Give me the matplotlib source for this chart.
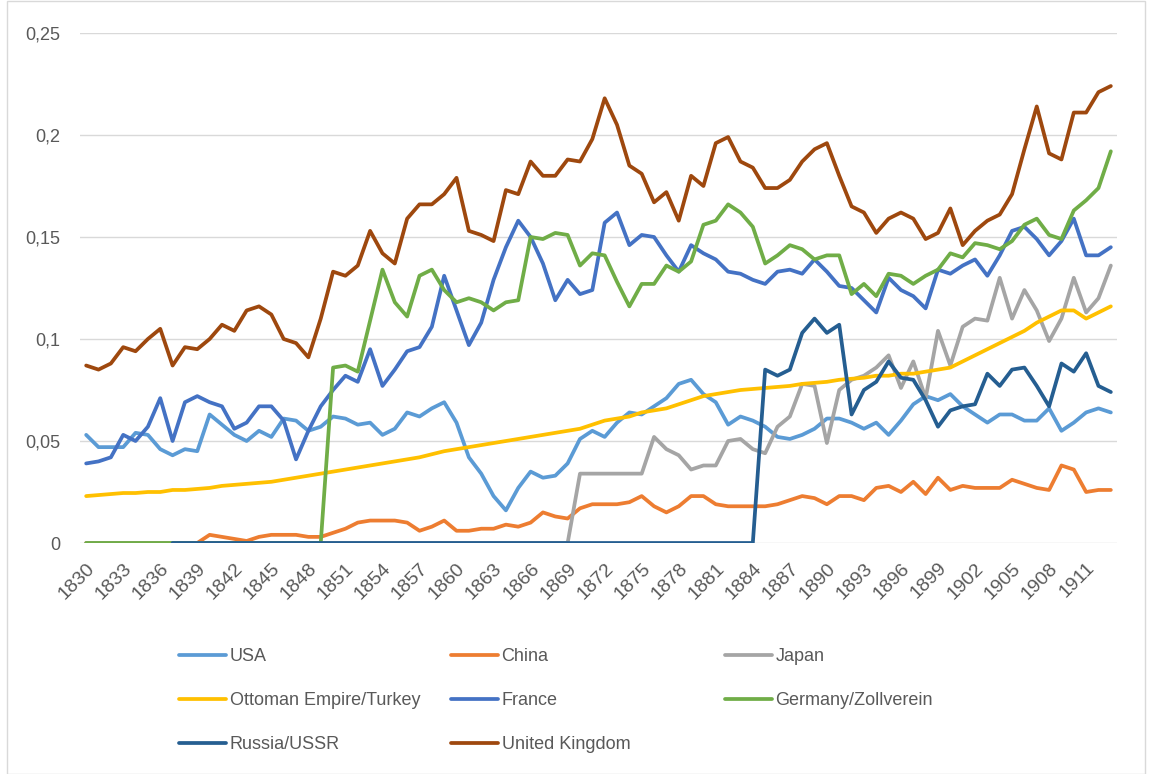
import numpy as np
import matplotlib
matplotlib.use("Agg")
import matplotlib.pyplot as plt
from matplotlib.ticker import FuncFormatter
from matplotlib.patches import Rectangle

plt.rcParams["font.family"] = ["Liberation Sans", "DejaVu Sans"]

# ======================================================================
# DATA (share values per year, 1830-1913)
# ======================================================================

years = list(range(1830, 1914))
nan = np.nan

usa = [0.053, 0.047, 0.047, 0.047, 0.054, 0.053, 0.046, 0.043, 0.046, 0.045,
       0.063, 0.058, 0.053, 0.050, 0.055, 0.052, 0.061, 0.060, 0.055, 0.057,
       0.062, 0.061, 0.058, 0.059, 0.053, 0.056, 0.064, 0.062, 0.066, 0.069,
       0.059, 0.042, 0.034, 0.023, 0.016, 0.027, 0.035, 0.032, 0.033, 0.039,
       0.051, 0.055, 0.052, 0.059, 0.064, 0.063, 0.067, 0.071, 0.078, 0.080,
       0.073, 0.069, 0.058, 0.062, 0.060, 0.057, 0.052, 0.051, 0.053, 0.056,
       0.061, 0.061, 0.059, 0.056, 0.059, 0.053, 0.060, 0.068, 0.072, 0.070,
       0.073, 0.067, 0.063, 0.059, 0.063, 0.063, 0.060, 0.060, 0.066, 0.055,
       0.059, 0.064, 0.066, 0.064]

china = [0.0, 0.0, 0.0, 0.0, 0.0, 0.0, 0.0, 0.0, 0.0, 0.0,
         0.004, 0.003, 0.002, 0.001, 0.003, 0.004, 0.004, 0.004, 0.003, 0.003,
         0.005, 0.007, 0.010, 0.011, 0.011, 0.011, 0.010, 0.006, 0.008, 0.011,
         0.006, 0.006, 0.007, 0.007, 0.009, 0.008, 0.010, 0.015, 0.013, 0.012,
         0.017, 0.019, 0.019, 0.019, 0.020, 0.023, 0.018, 0.015, 0.018, 0.023,
         0.023, 0.019, 0.018, 0.018, 0.018, 0.018, 0.019, 0.021, 0.023, 0.022,
         0.019, 0.023, 0.023, 0.021, 0.027, 0.028, 0.025, 0.030, 0.024, 0.032,
         0.026, 0.028, 0.027, 0.027, 0.027, 0.031, 0.029, 0.027, 0.026, 0.038,
         0.036, 0.025, 0.026, 0.026]

japan = [0.0, 0.0, 0.0, 0.0, 0.0, 0.0, 0.0, 0.0, 0.0, 0.0,
         0.0, 0.0, 0.0, 0.0, 0.0, 0.0, 0.0, 0.0, 0.0, 0.0,
         0.0, 0.0, 0.0, 0.0, 0.0, 0.0, 0.0, 0.0, 0.0, 0.0,
         0.0, 0.0, 0.0, 0.0, 0.0, 0.0, 0.0, 0.0, 0.0, 0.0,
         0.034, 0.034, 0.034, 0.034, 0.034, 0.034, 0.052, 0.046, 0.043, 0.036,
         0.038, 0.038, 0.050, 0.051, 0.046, 0.044, 0.057, 0.062, 0.078, 0.077,
         0.049, 0.075, 0.080, 0.082, 0.086, 0.092, 0.076, 0.089, 0.071, 0.104,
         0.087, 0.106, 0.110, 0.109, 0.130, 0.110, 0.124, 0.114, 0.099, 0.110,
         0.130, 0.113, 0.120, 0.136]

ottoman = [0.023, 0.0235, 0.024, 0.0245, 0.0245, 0.025, 0.025, 0.026, 0.026, 0.0265,
           0.027, 0.028, 0.0285, 0.029, 0.0295, 0.030, 0.031, 0.032, 0.033, 0.034,
           0.035, 0.036, 0.037, 0.038, 0.039, 0.040, 0.041, 0.042, 0.0435, 0.045,
           0.046, 0.047, 0.048, 0.049, 0.050, 0.051, 0.052, 0.053, 0.054, 0.055,
           0.056, 0.058, 0.060, 0.061, 0.062, 0.064, 0.065, 0.066, 0.068, 0.070,
           0.072, 0.073, 0.074, 0.075, 0.0755, 0.076, 0.0765, 0.077, 0.078, 0.0785,
           0.079, 0.080, 0.0805, 0.081, 0.082, 0.082, 0.083, 0.083, 0.084, 0.085,
           0.086, 0.089, 0.092, 0.095, 0.098, 0.101, 0.104, 0.108, 0.111, 0.114,
           0.114, 0.110, 0.113, 0.116]

france = [0.039, 0.040, 0.042, 0.053, 0.050, 0.057, 0.071, 0.050, 0.069, 0.072,
          0.069, 0.067, 0.056, 0.059, 0.067, 0.067, 0.060, 0.041, 0.055, 0.067,
          0.075, 0.082, 0.079, 0.095, 0.077, 0.085, 0.094, 0.096, 0.106, 0.131,
          0.114, 0.097, 0.108, 0.129, 0.145, 0.158, 0.150, 0.137, 0.119, 0.129,
          0.122, 0.124, 0.157, 0.162, 0.146, 0.151, 0.150, 0.141, 0.133, 0.146,
          0.142, 0.139, 0.133, 0.132, 0.129, 0.127, 0.133, 0.134, 0.132, 0.139,
          0.133, 0.126, 0.125, 0.119, 0.113, 0.130, 0.124, 0.121, 0.115, 0.134,
          0.132, 0.136, 0.139, 0.131, 0.141, 0.153, 0.155, 0.149, 0.141, 0.148,
          0.159, 0.141, 0.141, 0.145]

germany = [0.0, 0.0, 0.0, 0.0, 0.0, 0.0, 0.0, 0.0, 0.0, 0.0,
           0.0, 0.0, 0.0, 0.0, 0.0, 0.0, 0.0, 0.0, 0.0, 0.0,
           0.086, 0.087, 0.084, 0.109, 0.134, 0.118, 0.111, 0.131, 0.134, 0.124,
           0.118, 0.120, 0.118, 0.114, 0.118, 0.119, 0.150, 0.149, 0.152, 0.151,
           0.136, 0.142, 0.141, 0.128, 0.116, 0.127, 0.127, 0.136, 0.133, 0.138,
           0.156, 0.158, 0.166, 0.162, 0.155, 0.137, 0.141, 0.146, 0.144, 0.139,
           0.141, 0.141, 0.122, 0.127, 0.121, 0.132, 0.131, 0.127, 0.131, 0.134,
           0.142, 0.140, 0.147, 0.146, 0.144, 0.148, 0.156, 0.159, 0.151, 0.149,
           0.163, 0.168, 0.174, 0.192]

russia = [nan, nan, nan, nan, nan, nan, nan, 0.0, 0.0, 0.0,
          0.0, 0.0, 0.0, 0.0, 0.0, 0.0, 0.0, 0.0, 0.0, 0.0,
          0.0, 0.0, 0.0, 0.0, 0.0, 0.0, 0.0, 0.0, 0.0, 0.0,
          0.0, 0.0, 0.0, 0.0, 0.0, 0.0, 0.0, 0.0, 0.0, 0.0,
          0.0, 0.0, 0.0, 0.0, 0.0, 0.0, 0.0, 0.0, 0.0, 0.0,
          0.0, 0.0, 0.0, 0.0, 0.0, 0.085, 0.082, 0.085, 0.103, 0.110,
          0.103, 0.107, 0.063, 0.075, 0.079, 0.089, 0.081, 0.080, 0.070, 0.057,
          0.065, 0.067, 0.068, 0.083, 0.077, 0.085, 0.086, 0.077, 0.067, 0.088,
          0.084, 0.093, 0.077, 0.074]

uk = [0.087, 0.085, 0.088, 0.096, 0.094, 0.100, 0.105, 0.087, 0.096, 0.095,
      0.100, 0.107, 0.104, 0.114, 0.116, 0.112, 0.100, 0.098, 0.091, 0.110,
      0.133, 0.131, 0.136, 0.153, 0.142, 0.137, 0.159, 0.166, 0.166, 0.171,
      0.179, 0.153, 0.151, 0.148, 0.173, 0.171, 0.187, 0.180, 0.180, 0.188,
      0.187, 0.198, 0.218, 0.205, 0.185, 0.181, 0.167, 0.172, 0.158, 0.180,
      0.175, 0.196, 0.199, 0.187, 0.184, 0.174, 0.174, 0.178, 0.187, 0.193,
      0.196, 0.180, 0.165, 0.162, 0.152, 0.159, 0.162, 0.159, 0.149, 0.152,
      0.164, 0.146, 0.153, 0.158, 0.161, 0.171, 0.193, 0.214, 0.191, 0.188,
      0.211, 0.211, 0.221, 0.224]

series_names = ["USA", "China", "Japan", "Ottoman Empire/Turkey", "France",
                "Germany/Zollverein", "Russia/USSR", "United Kingdom"]
series_values = [usa, china, japan, ottoman, france, germany, russia, uk]
series_colors = ["#5B9BD5", "#ED7D31", "#A5A5A5", "#FFC000", "#4472C4",
                 "#70AD47", "#255E91", "#9E480E"]

tick_years = list(range(1830, 1912, 3))

# ======================================================================
# PLOT
# ======================================================================

fig = plt.figure(figsize=(11.54, 7.74), dpi=100)
ax = fig.add_axes([80 / 1154, 1 - 543 / 774, 1037 / 1154, 510 / 774])

lines = {}
for name, vals, col in zip(series_names, series_values, series_colors):
    (ln,) = ax.plot(years, vals, color=col, lw=2.7, solid_joinstyle="round",
                    solid_capstyle="round", label=name, zorder=3)
    lines[name] = ln

ax.set_xlim(1829.5, 1913.5)
ax.set_ylim(0, 0.25)
ax.set_yticks([0, 0.05, 0.1, 0.15, 0.2, 0.25])
ax.yaxis.set_major_formatter(FuncFormatter(lambda v, _: f"{v:g}".replace(".", ",")))
ax.set_xticks(tick_years)
ax.set_xticklabels([str(y) for y in tick_years], rotation=45, ha="right",
                   rotation_mode="anchor")
ax.tick_params(axis="both", length=0, labelsize=13, labelcolor="#595959")
ax.tick_params(axis="x", labelsize=14, pad=12)
ax.tick_params(axis="y", pad=14)
ax.grid(axis="y", color="#D9D9D9", lw=1, zorder=0)
for sp in ax.spines.values():
    sp.set_visible(False)

# --- Legend: three equal-width columns, filled row by row ---
legend_cols = [["USA", "Ottoman Empire/Turkey", "Russia/USSR"],
               ["China", "France", "United Kingdom"],
               ["Japan", "Germany/Zollverein"]]
col_x = [179, 451, 725]
for names, x0 in zip(legend_cols, col_x):
    fig.legend(handles=[lines[n] for n in names], loc="upper left",
               bbox_to_anchor=(x0 / 1154, 1 - 648 / 774), frameon=False,
               fontsize=13, labelcolor="#595959", handlelength=2.6,
               handletextpad=0.2, borderpad=0, borderaxespad=0,
               labelspacing=1.5)

fig.add_artist(Rectangle((7 / 1154, 0), 1138 / 1154, 0.999, transform=fig.transFigure,
                         fill=False, edgecolor="#D9D9D9", lw=1))

fig.savefig("out.png", dpi=100)
